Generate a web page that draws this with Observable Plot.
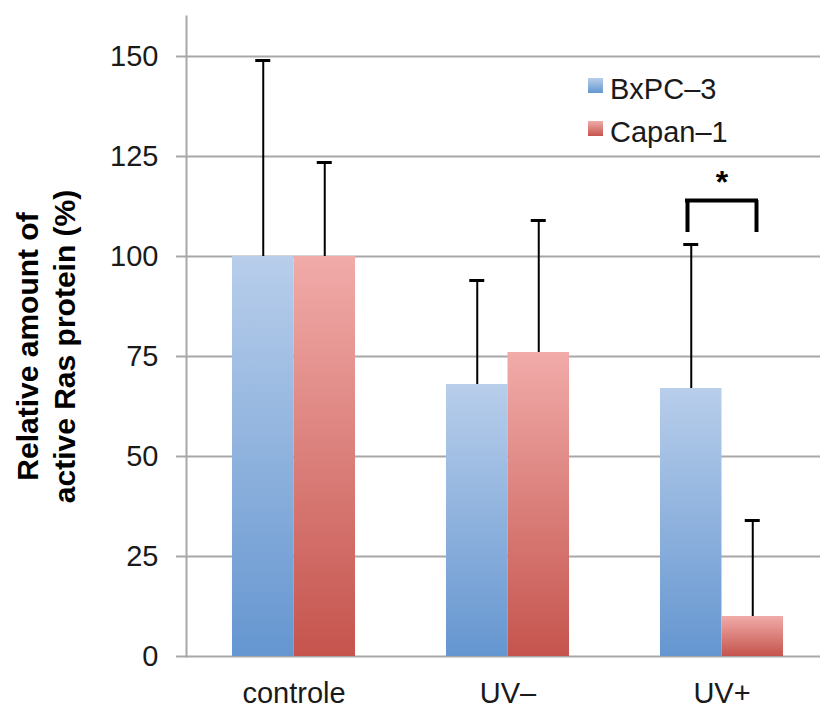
<!DOCTYPE html>
<html><head><meta charset="utf-8">
<script src="https://cdn.jsdelivr.net/npm/d3@7"></script>
<script src="https://cdn.jsdelivr.net/npm/@observablehq/plot@0.6"></script>
<style>
body{margin:0;background:#fff;}
#wrap{width:820px;height:709px;}
</style></head><body><div id="wrap"></div><script>
// ---- data ----
const groups = ["controle", "UV–", "UV+"];
const seriesNames = ["BxPC–3", "Capan–1"];
const bxpcMean = [100, 68, 67];
const bxpcUpper = [149, 94, 103];
const capanMean = [100, 76, 10];
const capanUpper = [123.5, 109, 34];
const yTicks = [0, 25, 50, 75, 100, 125, 150];
const sigGroup = ["UV+"];
const sigLegBottom = [106];
const sigTop = [114];
const sigStarY = [118.5];
const yTitle = "Relative amount of\nactive Ras protein (%)";

const rows = [];
groups.forEach((g, i) => {
  rows.push({group: g, series: seriesNames[0], mean: bxpcMean[i], upper: bxpcUpper[i]});
  rows.push({group: g, series: seriesNames[1], mean: capanMean[i], upper: capanUpper[i]});
});
const bx = rows.filter(d => d.series === seriesNames[0]);
const cp = rows.filter(d => d.series === seriesNames[1]);
const sig = sigGroup.map((g, i) => ({group: g, y1: sigLegBottom[i], y2: sigTop[i], star: sigStarY[i]}));

const font = '"Liberation Sans", Arial, Helvetica, sans-serif';
const half = 61.5;       // half of band width (px) – bar split
const errOff = 30.75;    // error bar offset from band center
const capInNear = 23.25, capInFar = 84.75;

const svg = Plot.plot({
  width: 820,
  height: 709,
  marginLeft: 186,
  marginRight: 0,
  marginTop: 16,
  marginBottom: 53,
  style: {fontFamily: font, color: "#1a1a1a", background: "white", overflow: "hidden"},
  x: {domain: groups, range: [186.5, 828.5], paddingInner: 0.425, paddingOuter: 0.2125, label: null},
  y: {domain: [0, 160], label: null},
  marks: [
    Plot.ruleY(yTicks, {stroke: "#a8a8a8", strokeWidth: 2, insetLeft: -10}),
    Plot.barY(bx, {x: "group", y: "mean", fill: "url(#gBlue)", insetRight: half}),
    Plot.barY(cp, {x: "group", y: "mean", fill: "url(#gRed)", insetLeft: half}),
    Plot.ruleX(bx, {x: "group", y1: "mean", y2: "upper", dx: -errOff, stroke: "#000", strokeWidth: 2}),
    Plot.ruleX(cp, {x: "group", y1: "mean", y2: "upper", dx: errOff, stroke: "#000", strokeWidth: 2}),
    Plot.tickY(bx, {x: "group", y: "upper", insetLeft: capInNear, insetRight: capInFar, stroke: "#000", strokeWidth: 3}),
    Plot.tickY(cp, {x: "group", y: "upper", insetLeft: capInFar, insetRight: capInNear, stroke: "#000", strokeWidth: 3}),
    // significance bracket
    Plot.ruleX(sig, {x: "group", y1: "y1", y2: "y2", dx: -34.5, stroke: "#000", strokeWidth: 4}),
    Plot.ruleX(sig, {x: "group", y1: "y1", y2: "y2", dx: 34.5, stroke: "#000", strokeWidth: 4}),
    Plot.tickY(sig, {x: "group", y: "y2", insetLeft: 25, insetRight: 25, stroke: "#000", strokeWidth: 4}),
    Plot.text(sig, {x: "group", y: "star", text: () => "*", fontSize: 32, fontWeight: "bold", fill: "#000"}),
    // axes
    Plot.frame({anchor: "left", stroke: "#a8a8a8", strokeWidth: 2}),
    Plot.axisY({ticks: yTicks, tickSize: 0, tickPadding: 28, fontSize: 29, label: null}),
    Plot.axisX({tickSize: 0, tickPadding: 26, fontSize: 29, label: null}),
    Plot.text([yTitle], {frameAnchor: "left", rotate: -90, dx: -142, dy: 10, lineHeight: 1.23,
      fontSize: 30, fontWeight: "bold", textAnchor: "middle", lineAnchor: "middle", fill: "#000"})
  ]
});

// gradients for bars & legend
const defs = d3.select(svg).insert("defs", ":first-child");
const grads = [
  {id: "gBlue", top: "#b8ceeb", bottom: "#6596d0"},
  {id: "gRed", top: "#f1aba9", bottom: "#c5544d"}
];
grads.forEach(g => {
  const lg = defs.append("linearGradient").attr("id", g.id).attr("x1", 0).attr("y1", 0).attr("x2", 0).attr("y2", 1);
  lg.append("stop").attr("offset", "0%").attr("stop-color", g.top);
  lg.append("stop").attr("offset", "100%").attr("stop-color", g.bottom);
});

// legend (inside plot area, top right)
const lgd = d3.select(svg).append("g").attr("font-family", font).attr("text-anchor", "start");
seriesNames.forEach((name, i) => {
  const yb = 99 + i * 43;
  lgd.append("rect").attr("x", 588).attr("y", yb - 21).attr("width", 15).attr("height", 15)
    .attr("fill", `url(#${grads[i].id})`);
  lgd.append("text").attr("x", 610).attr("y", yb).attr("font-size", 29)
    .attr("text-anchor", "start").attr("fill", "#1a1a1a").text(name);
});

document.getElementById("wrap").appendChild(svg);
</script></body></html>
